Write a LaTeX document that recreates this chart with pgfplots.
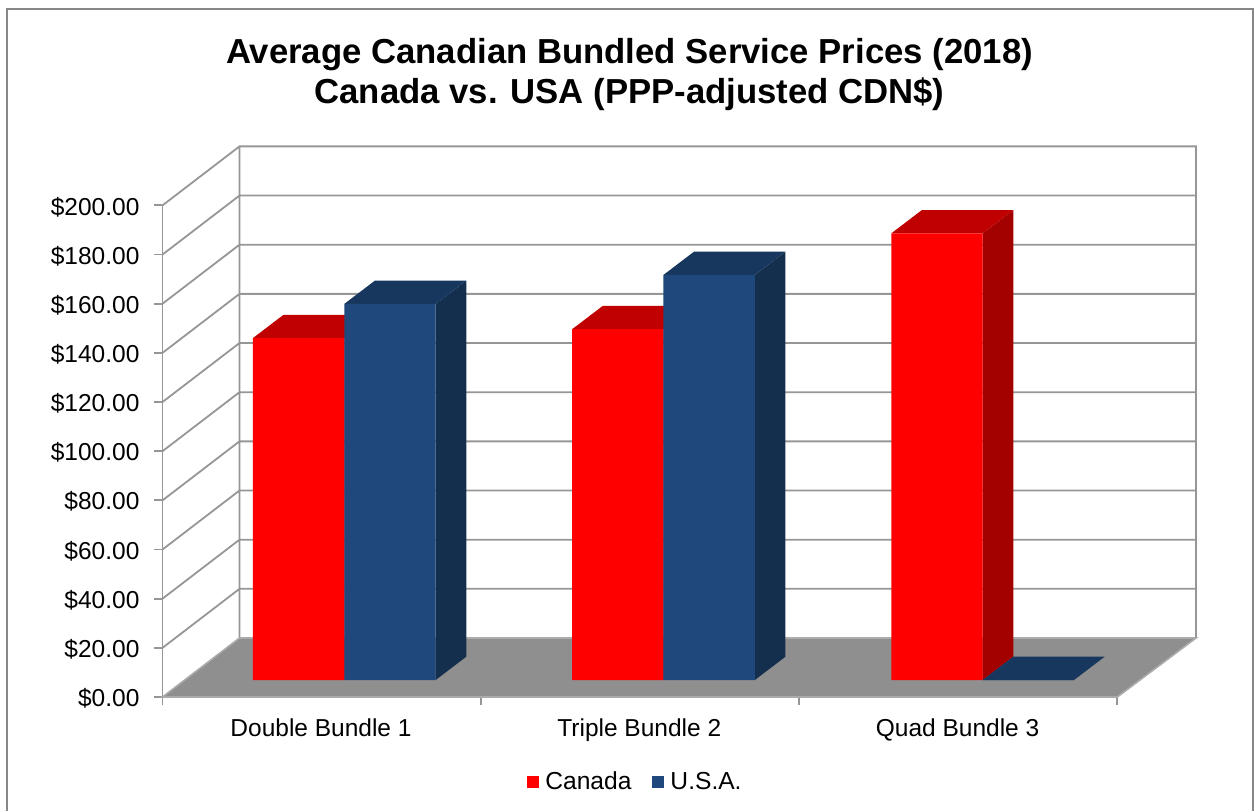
\documentclass[border=0pt]{standalone}
\usepackage{pgfplots}
\pgfplotsset{compat=1.18}
\usepackage{fontspec}
\setmainfont{Liberation Sans}
\definecolor{frameg}{RGB}{135,135,135}
\definecolor{gridg}{RGB}{150,150,150}
\definecolor{floorg}{RGB}{143,143,143}
\definecolor{canfront}{RGB}{255,0,0}
\definecolor{cantop}{RGB}{192,0,0}
\definecolor{canside}{RGB}{163,0,0}
\definecolor{usfront}{RGB}{31,73,125}
\definecolor{ustop}{RGB}{23,55,94}
\definecolor{usside}{RGB}{20,46,78}
\pgfplotsset{
  face/.style={fill=#1, draw=none, forget plot},
  swatch/.style={legend image code/.code={\fill[#1] (0pt,-3pt) rectangle (6pt,3pt);}},
}
\begin{document}
\begin{tikzpicture}[x=0.5pt,y=0.5pt]
\useasboundingbox (0,0) rectangle (1254,811);
\draw[frameg, line width=1.25pt] (7,0) -- (7,802) -- (1253,802) -- (1253,0);

% walls, floor and value axis
\begin{axis}[
  at={(81.25pt,57pt)}, scale only axis, width=516.75pt, height=275.5pt,
  xmin=0, xmax=3.2473, ymin=0, ymax=224.16, clip=false,
  axis x line*=bottom, axis y line*=left, axis line style={draw=none},
  ytick={0,20,...,200},
  yticklabels={\$0.00,\$20.00,\$40.00,\$60.00,\$80.00,\$100.00,\$120.00,\$140.00,\$160.00,\$180.00,\$200.00},
  xtick={0,1,2,3}, xticklabels={},
  extra x ticks={0.5,1.5,2.5},
  extra x tick labels={Double Bundle 1,Triple Bundle 2,Quad Bundle 3},
  extra x tick style={tick style={draw=none}, xticklabel style={yshift=-3.5pt, xshift=-0.3pt}},
  tick align=outside,
  major tick length=4pt,
  tick style={draw=gridg, line width=0.9pt},
  tick label style={font=\fontsize{12.25}{14}\selectfont, text=black},
  yticklabel style={xshift=-4pt, yshift=-0.7pt},
  title={Average Canadian Bundled Service Prices (2018)\\Canada vs. USA (PPP-adjusted CDN\$)},
  title style={font=\fontsize{17.35}{20}\selectfont\bfseries, align=center, at={(0.4519,1.1088)}, anchor=center},
  unbounded coords=jump,
]
\addplot[gridg, line width=0.9pt, forget plot] coordinates {
  (0,20)(0.2419,44)(3.2473,44)(0,nan)
  (0,40)(0.2419,64)(3.2473,64)(0,nan)
  (0,60)(0.2419,84)(3.2473,84)(0,nan)
  (0,80)(0.2419,104)(3.2473,104)(0,nan)
  (0,100)(0.2419,124)(3.2473,124)(0,nan)
  (0,120)(0.2419,144)(3.2473,144)(0,nan)
  (0,140)(0.2419,164)(3.2473,164)(0,nan)
  (0,160)(0.2419,184)(3.2473,184)(0,nan)
  (0,180)(0.2419,204)(3.2473,204)(0,nan)
  (0,200)(0.2419,224)(3.2473,224)(3.2473,24)(0,nan)
  (0.2419,24)(0.2419,224)
};
\addplot[gridg, line width=0.9pt, forget plot] coordinates {(0,0)(0,200)};
\addplot[fill=floorg, draw=gridg!80, line width=0.8pt, forget plot] coordinates {
  (0,0)(3,0)(3.2473,24)(0.2419,24)} -- cycle;
\end{axis}

% bars: same scale, standing on the floor
\begin{axis}[
  at={(92.35pt,65.5pt)}, scale only axis, width=516.75pt, height=270.38pt,
  xmin=0, xmax=3.238, ymin=0, ymax=220, clip=false, hide axis,
  legend columns=2,
  legend style={draw=none, fill=none, at={(0.4371,-0.1886)}, anchor=center,
    font=\fontsize{12.3}{14}\selectfont, inner sep=0pt, outer sep=0pt,
    /tikz/every odd column/.append style={column sep=1pt},
    /tikz/every even column/.append style={column sep=8.5pt}},
]
% Canada
\addplot[face=canside] coordinates {(0.5,0)(0.5959,9.48)(0.5959,148.58)(0.5,139.1)} -- cycle;
\addplot[face=cantop] coordinates {(0.2137,139.1)(0.5,139.1)(0.5959,148.58)(0.3096,148.58)} -- cycle;
\addplot[face=canside] coordinates {(1.5,0)(1.5959,9.48)(1.5959,152.18)(1.5,142.7)} -- cycle;
\addplot[face=cantop] coordinates {(1.2137,142.7)(1.5,142.7)(1.5959,152.18)(1.3096,152.18)} -- cycle;
\addplot[face=canside] coordinates {(2.5,0)(2.5959,9.48)(2.5959,191.18)(2.5,181.7)} -- cycle;
\addplot[face=cantop] coordinates {(2.2137,181.7)(2.5,181.7)(2.5959,191.18)(2.3096,191.18)} -- cycle;
\addplot[ybar, bar width=45.7pt, bar shift=-22.85pt, fill=canfront, draw=none, swatch=canfront]
  coordinates {(0.5,139.1)(1.5,142.7)(2.5,181.7)};
\addlegendentry{Canada}
% U.S.A.
\addplot[face=usside] coordinates {(0.7863,0)(0.8822,9.48)(0.8822,162.48)(0.7863,153)} -- cycle;
\addplot[face=ustop] coordinates {(0.5,153)(0.7863,153)(0.8822,162.48)(0.5959,162.48)} -- cycle;
\addplot[face=usside] coordinates {(1.7863,0)(1.8822,9.48)(1.8822,174.28)(1.7863,164.8)} -- cycle;
\addplot[face=ustop] coordinates {(1.5,164.8)(1.7863,164.8)(1.8822,174.28)(1.5959,174.28)} -- cycle;
\addplot[face=ustop] coordinates {(2.5,0)(2.7863,0)(2.8822,9.48)(2.5959,9.48)} -- cycle;
\addplot[ybar, bar width=45.7pt, bar shift=22.85pt, fill=usfront, draw=none, swatch=usfront]
  coordinates {(0.5,153)(1.5,164.8)(2.5,0)};
\addlegendentry{U.S.A.}
\end{axis}
\end{tikzpicture}
\end{document}
